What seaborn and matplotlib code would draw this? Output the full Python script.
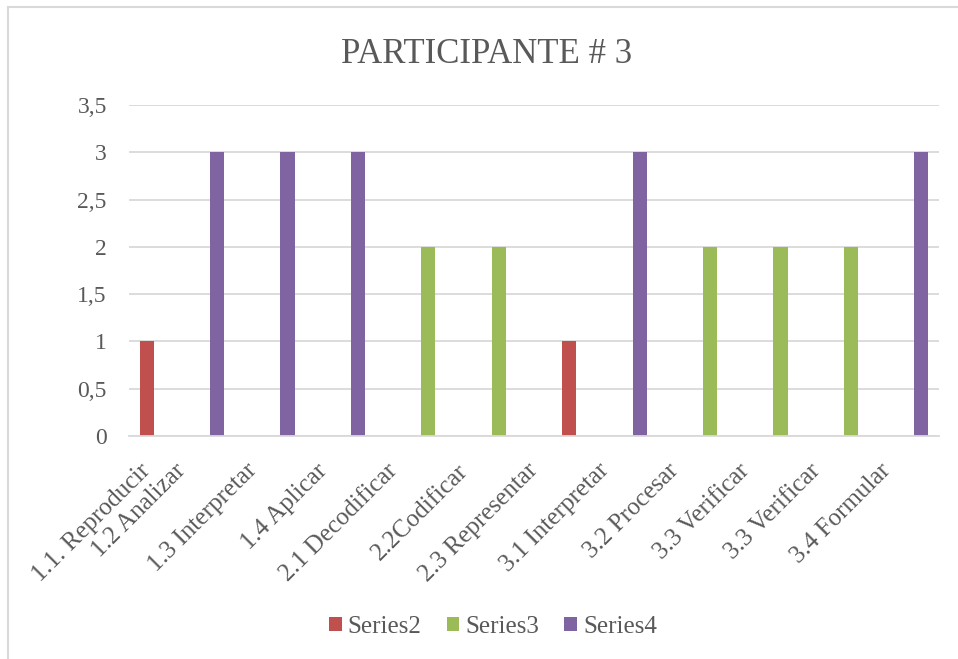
import pandas as pd
import matplotlib
matplotlib.use("Agg")
import matplotlib.pyplot as plt
import matplotlib.transforms as mtransforms
import seaborn as sns
from matplotlib.patches import Rectangle

OUT_PATH = "out.png"

# category slots as they sit on the axis (labels sit between the bars)
categories = [
    "1.1. Reproducir", "1.2 Analizar", "", "1.3 Interpretar", "",
    "1.4 Aplicar", "", "2.1 Decodificar", "", "2.2Codificar", "",
    "2.3 Representar", "", "3.1 Interpretar", "", "3.2 Procesar", "",
    "3.3 Verificar", "", "3.3 Verificar", "", "3.4 Formular", "",
]
series2 = [1, 0, 0, 0, 0, 0, 0, 0, 0, 0, 0, 0, 1, 0, 0, 0, 0, 0, 0, 0, 0, 0, 0]
series3 = [0, 0, 0, 0, 0, 0, 0, 0, 2, 0, 2, 0, 0, 0, 0, 0, 2, 0, 2, 0, 2, 0, 0]
series4 = [0, 0, 3, 0, 3, 0, 3, 0, 0, 0, 0, 0, 0, 0, 3, 0, 0, 0, 0, 0, 0, 0, 3]
series_names = ["Series2", "Series3", "Series4"]
yticks = [0, 0.5, 1, 1.5, 2, 2.5, 3, 3.5]

COLORS = {"Series2": "#C0504D", "Series3": "#9BBB59", "Series4": "#8064A2"}
TEXT   = "#595959"
GRID   = "#D9D9D9"

df = pd.DataFrame({
    "pos": range(len(categories)),
    "Series2": series2,
    "Series3": series3,
    "Series4": series4,
})
long = df.melt(id_vars="pos", var_name="series", value_name="value")
long = long[long["value"] > 0]

sns.set_style("white")
plt.rcParams["font.family"] = ["Liberation Serif", "DejaVu Serif"]

fig = plt.figure(figsize=(9.58, 6.59), dpi=100)
ax = fig.add_axes([129 / 958, 1 - 436 / 659, 810 / 958, 331 / 659])

sns.barplot(
    data=long, x="pos", y="value", hue="series",
    order=list(range(len(categories))), hue_order=series_names,
    palette=COLORS, dodge=False, width=0.4, saturation=1,
    linewidth=0, ax=ax,
)

ax.set_ylim(0, 3.5)
ax.set_yticks(yticks)
ax.set_yticklabels([f"{v:g}".replace(".", ",") for v in yticks],
                   fontsize=17, color=TEXT)
ax.set_xticks(range(len(categories)))
ax.set_xticklabels(categories, rotation=45, ha="right", va="top",
                   rotation_mode="anchor", fontsize=18, color=TEXT)
ax.tick_params(axis="y", length=0, pad=16)
ax.tick_params(axis="x", length=0, pad=17)
ax.set_xlabel("")
ax.set_ylabel("")

# nudge the rotated labels a little to the left, as in the original
shift = mtransforms.ScaledTranslation(-7 / 100, 0, fig.dpi_scale_trans)
for lbl in ax.get_xticklabels():
    lbl.set_transform(lbl.get_transform() + shift)

ax.yaxis.grid(True, color=GRID, linewidth=1.3)
ax.set_axisbelow(True)
for side in ["top", "right", "left"]:
    ax.spines[side].set_visible(False)
ax.spines["bottom"].set_color(GRID)
ax.spines["bottom"].set_linewidth(1.3)

sns.move_legend(
    ax, "center", bbox_to_anchor=(493 / 958, 1 - 627 / 659),
    bbox_transform=fig.transFigure, ncol=3, frameon=False, title=None,
    fontsize=18, handlelength=0.5, handleheight=0.5, handletextpad=0.25,
    columnspacing=1.0, labelcolor=TEXT,
)

fig.text(0.508, 1 - 63 / 659, "PARTICIPANTE # 3", ha="center",
         va="baseline", fontsize=25, color=TEXT)

fig.patches.append(Rectangle(
    (8 / 958, -0.05), 1.1, 1.05 - 7 / 659, transform=fig.transFigure,
    fill=False, edgecolor=GRID, linewidth=1.5,
))

fig.savefig(OUT_PATH, dpi=100)
plt.close(fig)
